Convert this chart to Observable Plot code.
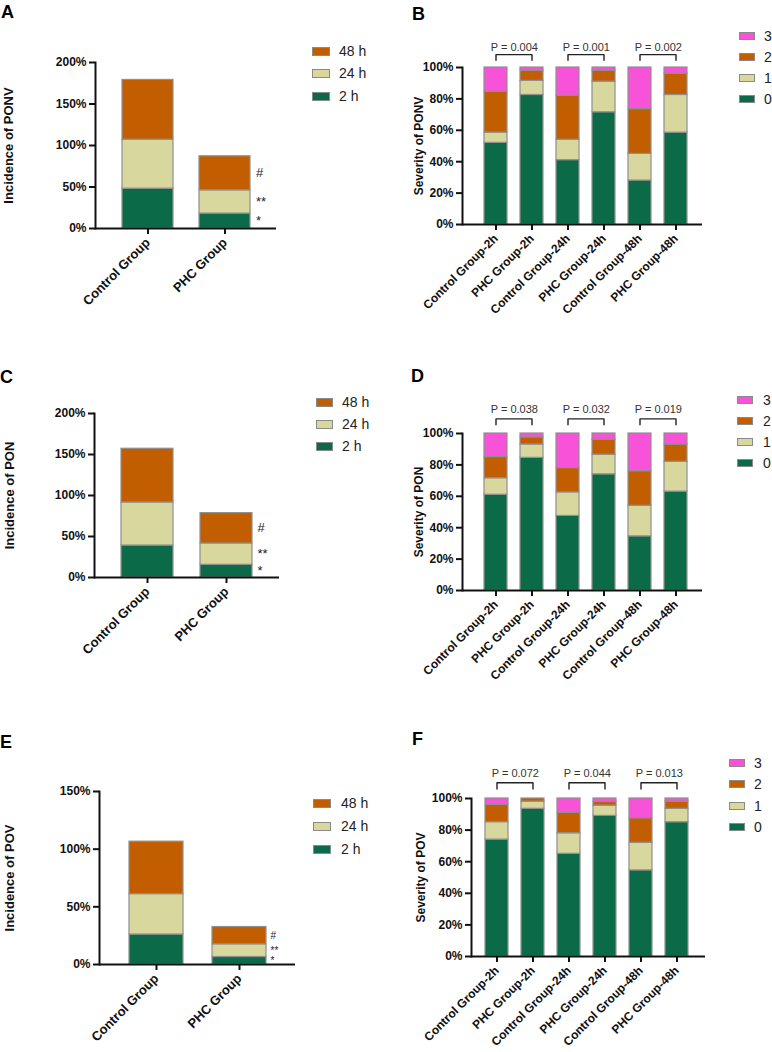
<!DOCTYPE html>
<html><head><meta charset="utf-8">
<script src="https://cdn.jsdelivr.net/npm/d3@7"></script>
<script src="https://cdn.jsdelivr.net/npm/@observablehq/plot@0.6"></script>
<style>
body{margin:0;background:#fff;font-family:'Liberation Sans',Arial,sans-serif;}
#fig{position:relative;width:772px;height:1052px;overflow:hidden;background:#fff;}
.panel{position:absolute;overflow:visible;}
.letter{position:absolute;font-weight:bold;font-size:18px;line-height:1;color:#000;}
.lg-sw{position:absolute;box-sizing:border-box;border:1px solid #8a8a8a;}
.lg-tx{position:absolute;font-size:14px;line-height:14px;color:#222;white-space:nowrap;}
</style></head><body><div id="fig"></div>
<script>
// ---------- data ----------
const incGroups = ["Control Group", "PHC Group"];
const times = ["2 h", "24 h", "48 h"];
const sigMarks = ["*", "**", "#"];
const ponvControl = [48, 59, 72];
const ponvPHC = [18, 28, 41];
const ponControl = [39, 52.5, 65.5];
const ponPHC = [15.5, 26, 37];
const povControl = [26, 35, 45.5];
const povPHC = [6.5, 11, 15];

const sevBars = ["Control Group-2h", "PHC Group-2h", "Control Group-24h", "PHC Group-24h", "Control Group-48h", "PHC Group-48h"];
const sevLevels = ["0", "1", "2", "3"];
const ponvSev0 = [52, 82.5, 41, 71.5, 28, 58.5];
const ponvSev1 = [6.5, 9, 13, 19.5, 17, 24];
const ponvSev2 = [26, 6.5, 28, 7, 28.5, 13.5];
const ponvSev3 = [15.5, 2, 18, 2, 26.5, 4];
const ponSev0 = [61, 84.5, 47.5, 74, 34.5, 63];
const ponSev1 = [10.5, 8.5, 15, 12.5, 19.5, 19];
const ponSev2 = [13.5, 4.5, 15.5, 9.5, 22, 11];
const ponSev3 = [15, 2.5, 22, 4, 24, 7];
const povSev0 = [74, 93.5, 65, 89, 54.5, 85];
const povSev1 = [11, 4.5, 13, 6.5, 17.5, 8.5];
const povSev2 = [11, 2, 13, 2.3, 15.5, 4.5];
const povSev3 = [4, 0, 9, 2.2, 12.5, 2];
const ponvP = ["0.004", "0.001", "0.002"];
const ponP = ["0.038", "0.032", "0.019"];
const povP = ["0.072", "0.044", "0.013"];
const pairs = [[0, 1], [2, 3], [4, 5]];

const timeColors = ["#0b6b48", "#d8d89e", "#c25e00"];
const sevColors = ["#0b6b48", "#d8d89e", "#c25e00", "#f752d8"];
const barStroke = "#8f8f8f";
const FONT = "'Liberation Sans', Arial, Helvetica, sans-serif";

const fig = document.getElementById("fig");

function place(el, left, top) {
  el.classList.add("panel");
  el.style.left = left + "px";
  el.style.top = top + "px";
  fig.appendChild(el);
}
function letter(t, left, top) {
  const d = document.createElement("div");
  d.className = "letter"; d.textContent = t;
  d.style.left = left + "px"; d.style.top = top + "px";
  fig.appendChild(d);
}
function legend(labels, colors, cfg) {
  labels.forEach((lab, i) => {
    const cy = cfg.ys[i];
    const s = document.createElement("div");
    s.className = "lg-sw";
    Object.assign(s.style, {left: cfg.sx + "px", top: (cy - cfg.sh / 2) + "px", width: cfg.sw + "px", height: cfg.sh + "px", background: colors[i]});
    fig.appendChild(s);
    const t = document.createElement("div");
    t.className = "lg-tx"; t.textContent = lab;
    Object.assign(t.style, {left: cfg.tx + "px", top: (cy - 7) + "px"});
    fig.appendChild(t);
  });
}

function yLabel(label, offset, size) {
  return Plot.text([label], {frameAnchor: "left", rotate: -90, dx: -offset, lineAnchor: "top", textAnchor: "middle", text: d => d, fontSize: size, fontWeight: "bold", fill: "#111"});
}

function incidencePanel(cfg) {
  const rows = incGroups.flatMap((g, gi) => times.map((t, ti) => ({group: g, time: t, value: (gi ? cfg.phc : cfg.control)[ti]})));
  const annot = times.map((t, ti) => ({group: incGroups[1], time: t, value: cfg.phc[ti], mark: sigMarks[ti]}));
  const svg = Plot.plot({
    width: 386, height: cfg.height,
    marginLeft: cfg.ml, marginRight: cfg.mr, marginTop: cfg.mt, marginBottom: cfg.mb,
    style: {fontFamily: FONT, background: "transparent", overflow: "visible", color: "#111"},
    x: {domain: incGroups, padding: cfg.padding, label: null},
    y: {domain: [0, cfg.yMax], label: null},
    color: {domain: times, range: timeColors},
    marks: [
      Plot.barY(rows, {x: "group", y: "value", fill: "time", stroke: barStroke, strokeWidth: 1.2}),
      Plot.text(annot, Plot.stackY({x: "group", y: "value", text: "mark", textAnchor: "start", dx: cfg.annotDx, fontSize: cfg.annotSize, fill: "#222"})),
      Plot.axisY({ticks: cfg.yTicks, tickFormat: d => d + "%", tickSize: 6, tickPadding: 3, strokeWidth: 2, fontSize: 12, fontWeight: "bold", label: null}),
      Plot.axisX({tickRotate: -45, tickSize: 6, tickPadding: 6, strokeWidth: 2, fontSize: 13, fontWeight: "bold", label: null}),
      Plot.ruleY([0], {strokeWidth: 2, stroke: "#111"}),
      Plot.frame({anchor: "left", strokeWidth: 2, stroke: "#111"}),
      yLabel(cfg.label, cfg.labelOffset, 13)
    ]
  });
  place(svg, cfg.left, cfg.top);
}

function severityPanel(cfg) {
  const rows = sevBars.flatMap((b, bi) => sevLevels.map((l, li) => ({bar: b, level: l, value: cfg.sev[li][bi]})));
  const bracket = pairs.flatMap(([a, b], pi) => [
    {pair: pi, bar: sevBars[a], y: cfg.bLow},
    {pair: pi, bar: sevBars[a], y: cfg.bHigh},
    {pair: pi, bar: sevBars[b], y: cfg.bHigh},
    {pair: pi, bar: sevBars[b], y: cfg.bLow}
  ]);
  const pRows = pairs.map(([a], pi) => ({bar: sevBars[a], p: cfg.p[pi]}));
  const svg = Plot.plot({
    width: 386, height: cfg.height,
    marginLeft: cfg.ml, marginRight: cfg.mr, marginTop: cfg.mt, marginBottom: cfg.mb,
    style: {fontFamily: FONT, background: "transparent", overflow: "visible", color: "#111"},
    x: {domain: sevBars, paddingInner: 0.364, paddingOuter: cfg.po, align: cfg.align, label: null},
    y: {domain: [0, 100], label: null},
    color: {domain: sevLevels, range: sevColors},
    marks: [
      Plot.barY(rows, {x: "bar", y: "value", fill: "level", stroke: barStroke, strokeWidth: 1.2}),
      Plot.line(bracket, {x: "bar", y: "y", z: "pair", stroke: "#222", strokeWidth: 1.4}),
      Plot.text(pRows, {x: "bar", y: () => cfg.pY, text: d => "P = " + d.p, dx: cfg.half, fontSize: 11, fontWeight: "normal", fill: "#333", ariaLabel: "p-value"}),
      Plot.axisY({ticks: [0, 20, 40, 60, 80, 100], tickFormat: d => d + "%", tickSize: 6, tickPadding: 3, strokeWidth: 2, fontSize: 12, fontWeight: "bold", label: null}),
      Plot.axisX({tickRotate: -45, tickSize: 6, tickPadding: 6, strokeWidth: 2, fontSize: 12, fontWeight: "bold", label: null}),
      Plot.ruleY([0], {strokeWidth: 2, stroke: "#111"}),
      Plot.frame({anchor: "left", strokeWidth: 2, stroke: "#111"}),
      yLabel(cfg.label, cfg.labelOffset, 12)
    ]
  });
  d3.select(svg).selectAll('g[aria-label="p-value"] text').each(function () {
    const t = this.textContent;
    const sel = d3.select(this);
    sel.text(null);
    sel.append("tspan").attr("font-style", "italic").text(t.slice(0, 1));
    sel.append("tspan").text(t.slice(1));
  });
  place(svg, cfg.left, cfg.top);
}

// ---------- panels ----------
incidencePanel({left: 0, top: 0, height: 330, ml: 95, mr: 110, mt: 62, mb: 102, padding: 0.34, yMax: 200, yTicks: [0, 50, 100, 150, 200],
  control: ponvControl, phc: ponvPHC, label: "Incidence of PONV", labelOffset: 92, annotDx: 31, annotSize: 13});
incidencePanel({left: 0, top: 330, height: 360, ml: 94, mr: 107, mt: 83, mb: 113, padding: 0.34, yMax: 200, yTicks: [0, 50, 100, 150, 200],
  control: ponControl, phc: ponPHC, label: "Incidence of PON", labelOffset: 90, annotDx: 31, annotSize: 13});
incidencePanel({left: 0, top: 690, height: 362, ml: 99, mr: 91, mt: 101, mb: 88, padding: 0.35, yMax: 150, yTicks: [0, 50, 100, 150],
  control: povControl, phc: povPHC, label: "Incidence of POV", labelOffset: 95, annotDx: 31, annotSize: 10});

severityPanel({left: 386, top: 0, height: 330, ml: 76, mr: 70, mt: 67, mb: 106, po: 0.45, align: 0.59, half: 18.3,
  sev: [ponvSev0, ponvSev1, ponvSev2, ponvSev3], p: ponvP, bLow: 104.6, bHigh: 108.2, pY: 113,
  label: "Severity of PONV", labelOffset: 48});
severityPanel({left: 386, top: 330, height: 360, ml: 76, mr: 70, mt: 103, mb: 100, po: 0.45, align: 0.59, half: 18.3,
  sev: [ponSev0, ponSev1, ponSev2, ponSev3], p: ponP, bLow: 105.5, bHigh: 109.3, pY: 115,
  label: "Severity of PON", labelOffset: 48});
severityPanel({left: 386, top: 690, height: 362, ml: 85, mr: 67, mt: 108, mb: 96, po: 0.37, align: 0.45, half: 18.3,
  sev: [povSev0, povSev1, povSev2, povSev3], p: povP, bLow: 106, bHigh: 110, pY: 116,
  label: "Severity of POV", labelOffset: 55});

// ---------- legends ----------
const timeLabels = times.slice().reverse();
const timeCols = timeColors.slice().reverse();
const sevLabels = sevLevels.slice().reverse();
const sevCols = sevColors.slice().reverse();
legend(timeLabels, timeCols, {sx: 312, sw: 18, sh: 9, tx: 339, ys: [51, 73, 96]});
legend(timeLabels, timeCols, {sx: 316, sw: 17, sh: 9, tx: 342, ys: [402, 424, 446]});
legend(timeLabels, timeCols, {sx: 313, sw: 18, sh: 9, tx: 341, ys: [803, 826, 849]});
legend(sevLabels, sevCols, {sx: 739, sw: 16, sh: 8, tx: 764, ys: [36, 57, 78, 99]});
legend(sevLabels, sevCols, {sx: 737, sw: 16, sh: 8, tx: 763, ys: [400, 421, 442, 463]});
legend(sevLabels, sevCols, {sx: 729, sw: 16, sh: 8, tx: 754, ys: [763, 784, 806, 827]});

// ---------- panel letters ----------
letter("A", 1, 3);
letter("B", 412, 5);
letter("C", 0, 368);
letter("D", 411, 367);
letter("E", 0, 733);
letter("F", 412, 730);
</script></body></html>
